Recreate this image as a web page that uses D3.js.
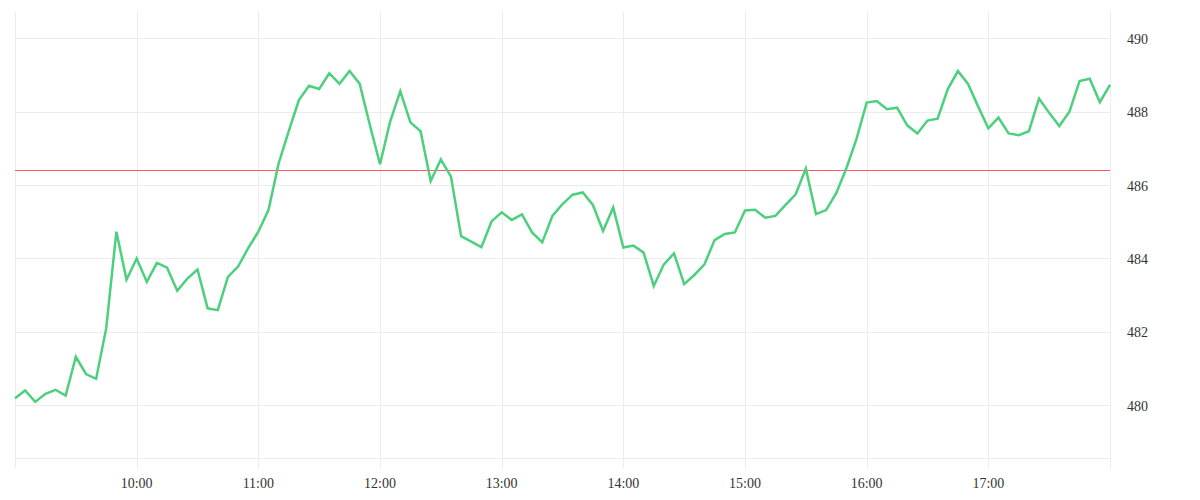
<!DOCTYPE html>
<html lang="en">

<head>
	<meta charset="utf-8">
	<title>Intraday price line</title>
	<script type="text/javascript" src="https://cdn.jsdelivr.net/npm/d3@7"></script>
	<style type="text/css">
		body {
			margin: 0;
			background: #fff;
		}
	</style>
</head>

<body>
	<script type="text/javascript">
		// chart data: one price every 5 minutes, 09:00 to 18:00
		var startTime = "09:00";
		var stepMinutes = 5;
		var prices = [
			480.19, 480.40, 480.09, 480.31, 480.42, 480.26, 481.32, 480.85, 480.72, 482.10,
			484.73, 483.42, 484.00, 483.36, 483.88, 483.75, 483.12, 483.45, 483.70, 482.64,
			482.59, 483.50, 483.78, 484.28, 484.73, 485.32, 486.59, 487.47, 488.32, 488.71,
			488.62, 489.05, 488.76, 489.11, 488.76, 487.64, 486.57, 487.73, 488.56, 487.71,
			487.47, 486.11, 486.70, 486.23, 484.61, 484.46, 484.31, 485.01, 485.26, 485.05,
			485.20, 484.71, 484.44, 485.16, 485.48, 485.74, 485.80, 485.46, 484.75, 485.39,
			484.30, 484.35, 484.16, 483.25, 483.84, 484.14, 483.30, 483.55, 483.84, 484.50,
			484.67, 484.71, 485.31, 485.33, 485.11, 485.16, 485.46, 485.75, 486.45, 485.21,
			485.32, 485.78, 486.46, 487.26, 488.25, 488.29, 488.07, 488.11, 487.63, 487.41,
			487.76, 487.81, 488.62, 489.11, 488.76, 488.14, 487.55, 487.84, 487.41, 487.36,
			487.47, 488.36, 487.97, 487.61, 488.00, 488.84, 488.90, 488.26, 488.73
		];
		var referencePrice = 486.40;
		var yTicks = [480, 482, 484, 486, 488, 490];
		var xTickHours = ["09:00", "10:00", "11:00", "12:00", "13:00", "14:00", "15:00", "16:00", "17:00", "18:00"];
		var xLabelHours = ["10:00", "11:00", "12:00", "13:00", "14:00", "15:00", "16:00", "17:00"];

		//Width and height
		var w = 1200;
		var h = 500;
		var plotLeft = 15, plotRight = 1110, plotTop = 12, plotBottom = 458;

		var parseTime = d3.timeParse("%H:%M");
		var t0 = parseTime(startTime);
		var times = prices.map(function (d, i) {
			return d3.timeMinute.offset(t0, i * stepMinutes);
		});
		var data = prices.map(function (d, i) {
			return { t: times[i], v: d };
		});

		// create scales
		var xScale = d3.scaleTime()
			.domain([parseTime("09:00"), parseTime("18:00")])
			.range([plotLeft, plotRight]);

		var yScale = d3.scaleLinear()
			.domain([478.56, 490.72])
			.range([plotBottom, plotTop]);

		//Create SVG element
		var svg = d3.select("body")
			.append("svg")
			.attr("width", w)
			.attr("height", h);

		// horizontal grid
		svg.append("g")
			.selectAll("line")
			.data(yTicks)
			.enter()
			.append("line")
			.attr("x1", plotLeft)
			.attr("x2", plotRight)
			.attr("y1", function (d) { return Math.round(yScale(d)) + 0.5; })
			.attr("y2", function (d) { return Math.round(yScale(d)) + 0.5; })
			.attr("stroke", "#ececec");

		// bottom border
		svg.append("line")
			.attr("x1", plotLeft)
			.attr("x2", plotRight)
			.attr("y1", plotBottom + 0.5)
			.attr("y2", plotBottom + 0.5)
			.attr("stroke", "#ececec");

		// vertical grid, running down into the tick marks
		svg.append("g")
			.selectAll("line")
			.data(xTickHours)
			.enter()
			.append("line")
			.attr("x1", function (d) { return Math.round(xScale(parseTime(d))) + 0.5; })
			.attr("x2", function (d) { return Math.round(xScale(parseTime(d))) + 0.5; })
			.attr("y1", plotTop)
			.attr("y2", plotBottom + 10)
			.attr("stroke", "#ececec");

		// x labels
		svg.append("g")
			.selectAll("text")
			.data(xLabelHours)
			.enter()
			.append("text")
			.text(function (d) { return d; })
			.attr("x", function (d) { return xScale(parseTime(d)); })
			.attr("y", 488)
			.attr("text-anchor", "middle")
			.attr("font-family", "'Liberation Serif', serif")
			.attr("font-size", "14px")
			.attr("fill", "#333");

		// y labels on the right
		svg.append("g")
			.selectAll("text")
			.data(yTicks)
			.enter()
			.append("text")
			.text(function (d) { return d; })
			.attr("x", 1127)
			.attr("y", function (d) { return yScale(d); })
			.attr("dy", "0.4em")
			.attr("font-family", "'Liberation Serif', serif")
			.attr("font-size", "14px")
			.attr("fill", "#333");

		// reference line
		svg.append("line")
			.attr("x1", plotLeft)
			.attr("x2", plotRight)
			.attr("y1", Math.round(yScale(referencePrice)) + 0.5)
			.attr("y2", Math.round(yScale(referencePrice)) + 0.5)
			.attr("stroke", "#ff5a5f")
			.attr("stroke-width", 1);

		// price line
		var line = d3.line()
			.x(function (d) { return xScale(d.t); })
			.y(function (d) { return yScale(d.v); });

		svg.append("path")
			.datum(data)
			.attr("d", line)
			.attr("fill", "none")
			.attr("stroke", "#4cd07d")
			.attr("stroke-width", 2.5)
			.attr("stroke-linejoin", "miter");
	</script>
</body>

</html>
